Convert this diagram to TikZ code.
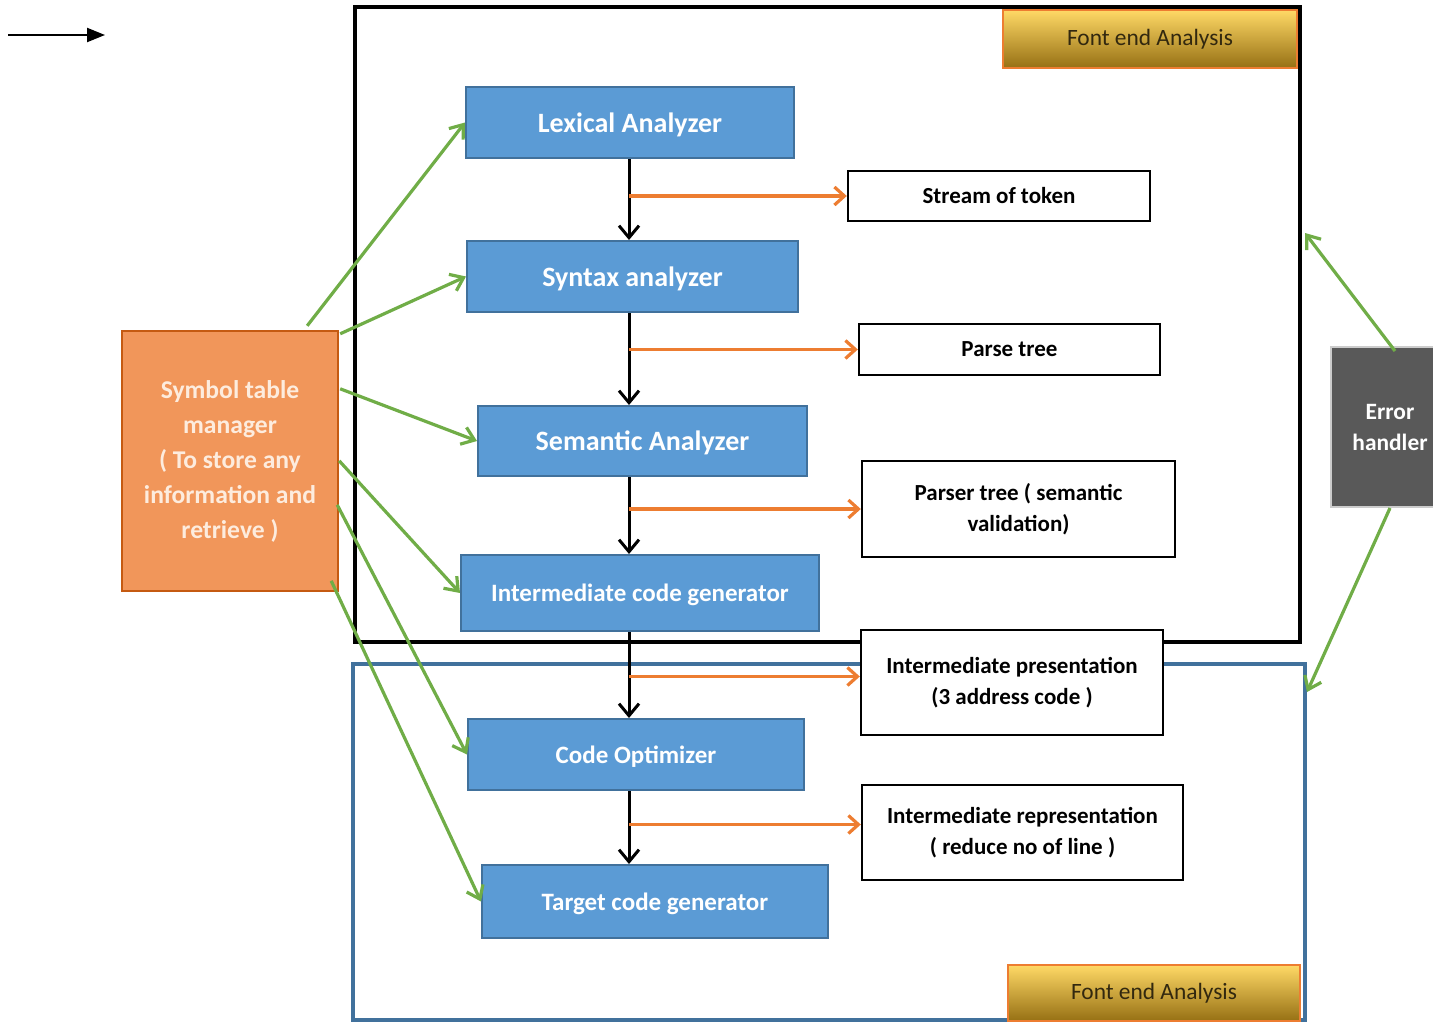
\documentclass[tikz,border=0pt]{standalone}
\usepackage{fontspec}
\setmainfont{Carlito}
\usepackage{xcolor}
\definecolor{stageblue}{RGB}{91,155,213}
\definecolor{stageedge}{RGB}{65,113,156}
\definecolor{symorange}{RGB}{241,150,90}
\definecolor{symedge}{RGB}{197,90,17}
\definecolor{symtext}{RGB}{253,236,222}
\definecolor{linkgreen}{RGB}{112,173,71}
\definecolor{outorange}{RGB}{237,125,49}
\definecolor{errgray}{RGB}{89,89,89}
\definecolor{goldtop}{RGB}{255,217,102}
\definecolor{goldbot}{RGB}{150,112,20}
\definecolor{goldtext}{RGB}{50,40,15}
\usepackage{tikz}
\usetikzlibrary{arrows.meta, positioning, calc}

\begin{document}
\begin{tikzpicture}[x=0.5pt, y=-0.5pt,
  stage/.style={draw=stageedge, line width=1pt, fill=stageblue, text=white,
                inner sep=0pt, text depth=0pt, font={\fontsize{14}{16}\selectfont\bfseries}},
  substage/.style={stage, font={\fontsize{12.5}{15}\selectfont\bfseries}},
  result/.style={draw=black, line width=1.2pt, fill=white, align=center,
                 inner sep=0pt, font={\fontsize{11.5}{15.5}\selectfont\bfseries}},
  banner/.style={draw=outorange, line width=1.2pt, top color=goldtop, bottom color=goldbot,
                 text=goldtext, inner sep=0pt, font={\fontsize{11.7}{14}\selectfont}},
  flow/.style={line width=1.5pt, -{Straight Barb[length=6pt,width=10pt]}},
  feed/.style={outorange, line width=1.6pt, -{Straight Barb[length=5pt,width=9pt]}},
  link/.style={linkgreen, line width=1.6pt, -{Straight Barb[length=6pt,width=9pt]}}]

\useasboundingbox (0,0) rectangle (1433,1023);

% --- Cue arrow ---
\coordinate (cueA) at (8,35);
\coordinate (cueB) at (105,35);
\draw[line width=1.1pt, -{Triangle[length=9pt,width=7pt]}] (cueA) -- (cueB);

% --- Frames ---
\draw[line width=2.2pt] (355,7) rectangle (1300,642);
\draw[stageedge, line width=2pt] (353,664) rectangle (1305,1020);

\node[banner, minimum width=147pt, minimum height=29pt] (bantop) at (1150,39) {Font end Analysis};
\node[banner, minimum width=146pt, minimum height=28pt] (banbot) at (1154,993) {Font end Analysis};

% --- Phases ---
\node[stage, minimum width=164pt, minimum height=35.5pt] (lex) at (630,122.5) {Lexical Analyzer};
\node[stage, minimum width=165.5pt, minimum height=35.5pt] (syn) at (632.5,276.5) {Syntax analyzer};
\node[stage, minimum width=164.5pt, minimum height=35pt] (sem) at (642.5,441) {Semantic Analyzer};
\node[substage, minimum width=179pt, minimum height=38pt] (icg) at (640,593) {Intermediate code generator};
\node[substage, minimum width=168pt, minimum height=35.5pt] (opt) at (636,754.5) {Code Optimizer};
\node[substage, minimum width=173pt, minimum height=36.5pt] (tcg) at (655,901.5) {Target code generator};

% --- Outputs ---
\node[result, minimum width=151pt, minimum height=25pt] (tok) at (999,196) {Stream of token};
\node[result, minimum width=150.5pt, minimum height=25.5pt] (ptree) at (1009.5,349.5) {Parse tree};
\node[result, minimum width=156.5pt, minimum height=48pt] (sval) at (1018.5,509) {Parser tree ( semantic\\validation)};
\node[result, minimum width=151pt, minimum height=52.5pt] (ipres) at (1012,682.5) {Intermediate presentation\\(3 address code )};
\node[result, minimum width=160.5pt, minimum height=47.5pt] (irep) at (1022.5,832.5) {Intermediate representation\\( reduce no of line )};

% --- Side boxes ---
\node[draw=symedge, line width=1.2pt, fill=symorange, text=symtext, align=center,
      inner sep=0pt, minimum width=108pt, minimum height=130pt,
      font={\fontsize{12.8}{17.5}\selectfont\bfseries}]
      (sym) at (230,461) {Symbol table\\manager\\( To store any\\information and\\retrieve )};
\node[draw=black!20, line width=1pt, fill=errgray, text=white, align=center,
      inner sep=0pt, minimum width=59pt, minimum height=80pt,
      font={\fontsize{11.7}{15.5}\selectfont\bfseries}]
      (err) at (1390,427) {Error\\handler};

% --- Phase flow ---
\coordinate (spine) at (629,0);
\draw[flow] (lex.south -| spine) -- (syn.north -| spine);
\draw[flow] (syn.south -| spine) -- (sem.north -| spine);
\draw[flow] (sem.south -| spine) -- (icg.north -| spine);
\draw[flow] (icg.south -| spine) -- (opt.north -| spine);
\draw[flow] (opt.south -| spine) -- (tcg.north -| spine);

% --- Outputs of each phase ---
\coordinate (ipin) at ($(ipres.west)+(0,-6)$);
\coordinate (irin) at ($(irep.west)+(0,-8)$);
\draw[feed] (spine |- tok.west) -- (tok.west);
\draw[feed] (spine |- ptree.west) -- (ptree.west);
\draw[feed] (spine |- sval.west) -- (sval.west);
\draw[feed] (spine |- ipin) -- (ipin);
\draw[feed] (spine |- irin) -- (irin);

% --- Symbol table links ---
\draw[link] ($(sym.north east)+(-32,-4)$) -- (lex.west);
\draw[link] ($(sym.north east)+(1,4)$) -- (syn.west);
\draw[link] ($(sym.north east)+(1,59)$) -- (sem.west);
\draw[link] ($(sym.north east)+(0,131)$) -- (icg.west);
\draw[link] ($(sym.north east)+(-2,175)$) -- (opt.west);
\draw[link] ($(sym.north east)+(-8,251)$) -- (tcg.west);

% --- Error handler links ---
\coordinate (errtop) at (1305,233);
\coordinate (errbot) at (1307,692);
\draw[link] ($(err.north)+(5,5)$) -- (errtop);
\draw[link] (err.south) -- (errbot);

\end{tikzpicture}
\end{document}
